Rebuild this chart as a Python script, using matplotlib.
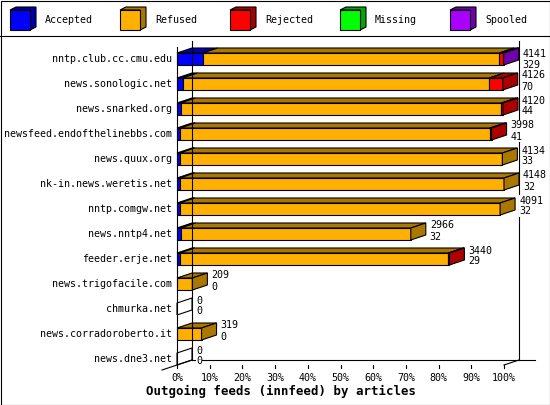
import matplotlib
matplotlib.use("Agg")
import matplotlib.pyplot as plt
from matplotlib.patches import Polygon, Rectangle

# === Data ===
hosts = [
    "nntp.club.cc.cmu.edu", "news.sonologic.net", "news.snarked.org",
    "newsfeed.endofthelinebbs.com", "news.quux.org", "nk-in.news.weretis.net",
    "nntp.comgw.net", "news.nntp4.net", "feeder.erje.net",
    "news.trigofacile.com", "chmurka.net", "news.corradoroberto.it",
    "news.dne3.net",
]
offered = [4141, 4126, 4120, 3998, 4134, 4148, 4091, 2966, 3440, 209, 0, 319, 0]
accepted_n = [329, 70, 44, 41, 33, 32, 32, 32, 29, 0, 0, 0, 0]

pct_accepted = [7.9, 1.7, 1.1, 1.0, 0.8, 0.8, 0.8, 1.1, 0.8, 0, 0, 0, 0]
pct_refused = [90.6, 93.8, 98.1, 94.7, 98.7, 99.2, 98.0, 70.4, 82.2, 4.7, 0, 7.5, 0]
pct_rejected = [1.1, 4.1, 0.5, 0.5, 0, 0, 0, 0, 0.3, 0, 0, 0, 0]
pct_missing = [0, 0, 0, 0, 0, 0, 0, 0, 0, 0, 0, 0, 0]
pct_spooled = [0.3, 0, 0, 0, 0, 0, 0, 0, 0, 0, 0, 0, 0]

series_names = ["Accepted", "Refused", "Rejected", "Missing", "Spooled"]
series_values = [pct_accepted, pct_refused, pct_rejected, pct_missing, pct_spooled]
x_ticks = [0, 10, 20, 30, 40, 50, 60, 70, 80, 90, 100]
title = "Outgoing feeds (innfeed) by articles"

# === Style ===
front_colors = ["#0000FF", "#FFB000", "#FF0000", "#00FF00", "#AA00FF"]
dark_colors = ["#0000A8", "#AA7700", "#AA0000", "#00A800", "#7000AA"]
MONO = "DejaVu Sans Mono"
FS = 7.2
LW = 0.8

W, H = 550, 405
PX = 3.27            # pixels per percent
ROW = 25             # pixels per row
DX = 15 / PX         # 3d depth, in percent
DY = 5 / ROW         # 3d depth, in rows
HH = 6 / ROW         # half bar height, in rows

fig = plt.figure(figsize=(W / 100, H / 100), dpi=100)

# overlay in pixel coords for border / legend / title
lax = fig.add_axes([0, 0, 1, 1])
lax.set_xlim(0, W)
lax.set_ylim(H, 0)
lax.axis("off")
lax.add_patch(Rectangle((0.5, 0.5), W - 1, H - 1, fill=False, ec="black", lw=LW))
lax.plot([0, W], [35.5, 35.5], color="black", lw=LW)

for i, name in enumerate(series_names):
    bx = 10 + 110 * i
    lax.add_patch(Polygon([(bx, 10), (bx + 6, 7), (bx + 26, 7), (bx + 26, 27), (bx + 20, 30), (bx + 20, 10)],
                          closed=True, fc=dark_colors[i], ec="black", lw=LW))
    lax.add_patch(Rectangle((bx, 10), 20, 20, fc=front_colors[i], ec="black", lw=LW))
    lax.text(bx + 35, 20, name, fontfamily=MONO, fontsize=FS, ha="left", va="center")

lax.text(281, 391, title, fontfamily=MONO, fontsize=8.9, fontweight="bold", ha="center", va="center")

# main plot: x in percent, y in rows
ax = fig.add_axes([177 / W, 1 - 371.5 / H, 100 * PX / W, 13 * ROW / H])
ax.set_xlim(0, 100)
ax.set_ylim(12.5, -0.5)
ax.axis("off")
ax.patch.set_visible(False)

n = len(hosts)
y_floor = 12 + 6 / ROW           # front floor
y_back = y_floor - DY
y_top_back = -0.5 - 5.5 / ROW
kw = dict(color="black", lw=LW, clip_on=False)

# frame
ax.plot([0, 0], [-0.5, y_floor], **kw)
ax.plot([DX, DX], [y_top_back, y_back], **kw)
ax.plot([100 + DX, 100 + DX], [y_top_back, y_back], **kw)
ax.plot([DX, 100 + DX + 16 / PX], [y_back, y_back], **kw)
ax.plot([-DX, DX], [y_floor + DY, y_back], **kw)
ax.plot([100, 100 + DX], [y_floor, y_back], **kw)
for t in x_ticks:
    ax.plot([t, t], [y_floor, y_floor + 3 / ROW], **kw)
    ax.text(t, y_floor + 13 / ROW, f"{t}%", fontfamily=MONO, fontsize=FS,
            ha="center", va="center", clip_on=False)

# bars
for r in range(n):
    y0, y1 = r - HH, r + HH
    left = 0.0
    last = None
    for s, vals in enumerate(series_values):
        v = vals[r]
        if v <= 0:
            continue
        right = left + v
        ax.add_patch(Polygon([(left, y0), (right, y0), (right + DX, y0 - DY), (left + DX, y0 - DY)],
                             closed=True, fc=dark_colors[s], ec="black", lw=LW, clip_on=False))
        ax.add_patch(Rectangle((left, y0), v, 2 * HH, fc=front_colors[s], ec="black",
                               lw=LW, clip_on=False))
        left = right
        last = s
    side_fc = dark_colors[last] if last is not None else "white"
    ax.add_patch(Polygon([(left, y0), (left + DX, y0 - DY), (left + DX, y1 - DY), (left, y1)],
                         closed=True, fc=side_fc, ec="black", lw=LW, clip_on=False))

    ax.text(-5 / PX, r, hosts[r], fontfamily=MONO, fontsize=FS, ha="right", va="center")
    lx = left + DX + 4 / PX
    ly = max(r - 8.5 / ROW, -5 / ROW)
    ax.text(lx, ly, str(offered[r]), fontfamily=MONO, fontsize=FS, ha="left", va="center",
            clip_on=False, bbox=dict(fc="white", ec="none", pad=0.3))
    ax.text(lx, ly + 11 / ROW, str(accepted_n[r]), fontfamily=MONO, fontsize=FS, ha="left",
            va="center", clip_on=False, bbox=dict(fc="white", ec="none", pad=0.3))

fig.savefig("out.png", dpi=100)
